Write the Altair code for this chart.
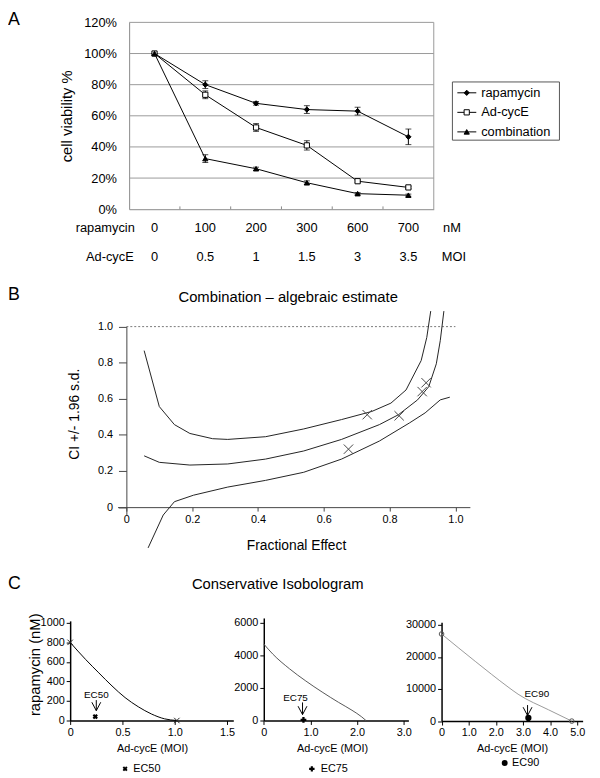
import altair as alt
import pandas as pd

FONT = "Liberation Sans"

# ---------------- Panel A data ----------------
rapa_doses = ["0", "100", "200", "300", "600", "700"]
adv_doses = ["0", "0.5", "1", "1.5", "3", "3.5"]
series_names = ["rapamycin", "Ad-cycE", "combination"]
viab_rapa = [100, 80, 68, 64, 63, 46.5]
err_rapa = [0, 2.5, 1.2, 2.5, 2.5, 5.0]
viab_adv = [100, 73.5, 52.5, 41, 18, 14]
err_adv = [0, 2.5, 2.5, 3.0, 0.7, 0.7]
viab_comb = [100, 32.5, 26, 17, 10, 9]
err_comb = [0, 2.5, 1.0, 1.2, 0.7, 0.7]
a_y_ticks = [0, 20, 40, 60, 80, 100, 120]
a_grid = [20, 40, 60, 80, 100, 120]
a_boundaries = [0.5, 1.5, 2.5, 3.5, 4.5]

# ---------------- Panel B data ----------------
fe_mid = [0.054, 0.100, 0.193, 0.308, 0.423, 0.539, 0.654, 0.769, 0.827, 0.885, 0.919, 0.942, 0.954, 0.965]
ci_mid = [0.284, 0.248, 0.233, 0.239, 0.266, 0.311, 0.375, 0.457, 0.512, 0.594, 0.667, 0.794, 0.922, 1.086]
fe_up = [0.054, 0.100, 0.146, 0.193, 0.262, 0.308, 0.423, 0.539, 0.654, 0.746, 0.804, 0.850, 0.896, 0.913, 0.925]
ci_up = [0.867, 0.557, 0.457, 0.408, 0.379, 0.375, 0.390, 0.433, 0.485, 0.530, 0.576, 0.649, 0.812, 0.940, 1.086]
fe_lo = [0.066, 0.112, 0.146, 0.204, 0.308, 0.423, 0.539, 0.654, 0.769, 0.861, 0.908, 0.954, 0.983]
ci_lo = [-0.226, -0.044, 0.030, 0.066, 0.111, 0.148, 0.193, 0.266, 0.366, 0.467, 0.522, 0.594, 0.609]
fe_obs = [0.675, 0.732, 0.829, 0.899, 0.911]
ci_obs = [0.321, 0.512, 0.506, 0.640, 0.689]
b_ticks = [0, 0.2, 0.4, 0.6, 0.8, 1.0]

# ---------------- Panel C data ----------------
c1_x = [0, 0.148, 0.274, 0.40, 0.525, 0.651, 0.777, 0.903, 1.02]
c1_y = [800, 625, 488, 354, 235, 141, 67, 17, 0]
c2_x = [0, 0.19, 0.55, 0.90, 1.25, 1.60, 1.89, 2.10, 2.19]
c2_y = [4700, 4090, 3180, 2430, 1750, 1120, 630, 220, 0]
c3_x = [0, 0.64, 1.24, 1.85, 2.45, 2.82, 3.95, 4.8]
c3_y = [27170, 22740, 18650, 14550, 10650, 8400, 3500, 0]
ec_names = ["EC50", "EC75", "EC90"]
ec_x = [0.24, 0.85, 3.2]
ec_y = [40, 40, 1000]
arrow_x = [0.25, 0.83, 3.17]
arrow_top = [209, 1110, 5000]
arrow_tip = [101, 364, 1720]
label_x = [0.25, 0.68, 3.51]
label_y = [263, 1376, 8580]

XPATH = "M-1,-1L1,1M-1,1L1,-1"
VPATH = "M-0.45,-0.85L0,0L0.45,-0.85"
FMT1 = "datum.value == 0 ? '0' : format(datum.value, '.1f')"
H = 770


def ax(**kw):
    base = dict(grid=False, labelFlush=False, labelOverlap=False, labelFont=FONT,
                titleFont=FONT, labelColor="black", titleColor="black",
                titleFontWeight="normal")
    base.update(kw)
    return alt.Axis(**base)


def one():
    return pd.DataFrame({"k": [0]})


def label(txt, x, y, size, align="left", weight="normal"):
    return alt.Chart(one()).mark_text(font=FONT, fontSize=size, align=align,
                                      baseline="middle", fontWeight=weight, color="black").encode(
        x=alt.value(x), y=alt.value(y), text=alt.value(txt))


# ================= Panel A =================
rows = []
for name, vals, errs in zip(series_names, [viab_rapa, viab_adv, viab_comb], [err_rapa, err_adv, err_comb]):
    for i, (v, e) in enumerate(zip(vals, errs)):
        rows.append({"series": name, "idx": i, "v": v, "lo": v - e, "hi": v + e, "err": e})
dfA = pd.DataFrame(rows)
dfA_err = dfA[dfA.err > 0]

xA = alt.Scale(domain=[-0.5, 5.5], range=[122.8, 431.6], nice=False, zero=False)
yA = alt.Scale(domain=[0, 120], range=[198.7, 9.3], nice=False, zero=False)
axA_y = ax(orient="left", offset=-122.8, values=a_y_ticks, labelExpr="datum.value + '%'",
           ticks=False, labelPadding=12.8, labelFontSize=13, domainColor="#888",
           title="cell viability %", titleX=-63.8, titleY=104, titleAngle=270,
           titleAlign="center", titleBaseline="middle", titleFontSize=15)
axA_x = ax(orient="bottom", offset=198.7 - H, values=a_boundaries, ticks=False, labels=False,
           domainColor="#888", title=None)


def XA(f):
    return alt.X(f, scale=xA, axis=axA_x)


def YA(f):
    return alt.Y(f, scale=yA, axis=axA_y)


def XAd(v):
    return alt.XDatum(v, scale=xA, axis=axA_x)


def YAd(v):
    return alt.YDatum(v, scale=yA, axis=axA_y)


shapeA = alt.Shape("series:N", scale=alt.Scale(domain=series_names, range=["diamond", "square", "triangle-up"]), legend=None)
fillA = alt.Fill("series:N", scale=alt.Scale(domain=series_names, range=["black", "white", "black"]), legend=None)

gridA = alt.Chart(pd.DataFrame({"g": a_grid})).mark_rule(color="#999", strokeWidth=1).encode(
    x=XAd(-0.5), x2=alt.X2Datum(5.5), y=YA("g:Q"))
borderA = alt.Chart(one()).mark_rule(color="#999", strokeWidth=1).encode(
    x=XAd(5.5), y=YAd(0), y2=alt.Y2Datum(120))
innerTicks = alt.Chart(pd.DataFrame({"b": a_boundaries})).mark_rule(color="#888", strokeWidth=1).encode(
    x=XA("b:Q"), y=YAd(0), y2=alt.Y2Datum(1.8))
linesA = alt.Chart(dfA).mark_line(color="black", strokeWidth=1).encode(
    x=XA("idx:Q"), y=YA("v:Q"), detail="series:N", order="idx:Q")
errA = alt.Chart(dfA_err).mark_rule(color="black", strokeWidth=1).encode(
    x=XA("idx:Q"), y=YA("lo:Q"), y2="hi:Q")
capLo = alt.Chart(dfA_err).mark_tick(orient="horizontal", size=6, thickness=1, color="black").encode(
    x=XA("idx:Q"), y=YA("lo:Q"))
capHi = alt.Chart(dfA_err).mark_tick(orient="horizontal", size=6, thickness=1, color="black").encode(
    x=XA("idx:Q"), y=YA("hi:Q"))
ptsA = alt.Chart(dfA).mark_point(filled=True, size=28, opacity=1, stroke="black", strokeWidth=1).encode(
    x=XA("idx:Q"), y=YA("v:Q"), shape=shapeA, fill=fillA)
dfT = pd.DataFrame({"idx": list(range(len(rapa_doses))), "rapa": rapa_doses, "adv": adv_doses})
tabR = alt.Chart(dfT).mark_text(font=FONT, fontSize=13, baseline="middle", color="black").encode(
    x=XA("idx:Q"), y=alt.value(217.7), text="rapa:N")
tabA = alt.Chart(dfT).mark_text(font=FONT, fontSize=13, baseline="middle", color="black").encode(
    x=XA("idx:Q"), y=alt.value(247), text="adv:N")

panelA = alt.layer(gridA, borderA, innerTicks, linesA, errA, capLo, capHi, ptsA, tabR, tabA)

# legend of panel A
dfL = pd.DataFrame({"series": series_names})
yL = alt.Y("series:N", sort=series_names,
           scale=alt.Scale(type="point", domain=series_names, range=[80.7, 120.3], padding=0), axis=None)
legBox = alt.Chart(one()).mark_rect(fill="white", stroke="#555", strokeWidth=1).encode(
    x=alt.value(450.5), x2=alt.value(559), y=alt.value(69.7), y2=alt.value(128.7))
legLine = alt.Chart(dfL).mark_rule(color="black", strokeWidth=1).encode(
    x=alt.value(455.5), x2=alt.value(474.7), y=yL)
legPts = alt.Chart(dfL).mark_point(filled=True, size=28, opacity=1, stroke="black", strokeWidth=1).encode(
    x=alt.value(465), y=yL, shape=shapeA, fill=fillA)
legTxt = alt.Chart(dfL).mark_text(font=FONT, fontSize=13, align="left", baseline="middle", color="black").encode(
    x=alt.value(479.7), y=yL, text="series:N")
legendA = alt.layer(legBox, legLine, legPts, legTxt)

# ================= Panel B =================
rowsB = []
for name, xs, ys in [("upper", fe_up, ci_up), ("mid", fe_mid, ci_mid), ("lower", fe_lo, ci_lo)]:
    for j, (a, b) in enumerate(zip(xs, ys)):
        rowsB.append({"curve": name, "o": j, "fe": a, "ci": b})
dfB = pd.DataFrame(rowsB)
dfObs = pd.DataFrame({"fe": fe_obs, "ci": ci_obs})

xB = alt.Scale(domain=[-0.027, 1.044], range=[111.0, 468.2], nice=False, zero=False)
yB = alt.Scale(domain=[-0.045, 1.0], range=[508.9, 317.7], nice=False, zero=False)
axB_y = ax(orient="left", offset=-120, values=b_ticks, labelExpr=FMT1, tickSize=8, labelPadding=6,
           domainColor="#444", tickColor="#444", labelFontSize=11,
           title="CI +/- 1.96 s.d.", titleX=-53, titleY=406, titleAngle=270,
           titleAlign="center", titleBaseline="middle", titleFontSize=14)
axB_x = ax(orient="bottom", offset=500.7 - H, values=b_ticks, labelExpr=FMT1, tickSize=4, labelPadding=3,
           domainColor="#444", tickColor="#444", labelFontSize=11,
           title="Fractional Effect", titleX=292, titleY=39, titleAngle=0,
           titleAlign="center", titleBaseline="middle", titleFontSize=14)

linesB = alt.Chart(dfB).mark_line(color="#222", strokeWidth=1).encode(
    x=alt.X("fe:Q", scale=xB, axis=axB_x), y=alt.Y("ci:Q", scale=yB, axis=axB_y),
    detail="curve:N", order="o:Q")
refB = alt.Chart(one()).mark_rule(color="#777", strokeWidth=1, strokeDash=[2, 2]).encode(
    x=alt.XDatum(0, scale=xB, axis=axB_x), x2=alt.X2Datum(1.0), y=alt.YDatum(1.0, scale=yB, axis=axB_y))
obsB = alt.Chart(dfObs).mark_point(shape=XPATH, size=90, filled=False, stroke="#444",
                                   strokeWidth=1, opacity=1).encode(
    x=alt.X("fe:Q", scale=xB, axis=axB_x), y=alt.Y("ci:Q", scale=yB, axis=axB_y))
panelB = alt.layer(refB, linesB, obsB)


# ================= Panel C =================
def iso(k, cx, cy, xdom, xr, ydom, yr, xvals, yvals, xoff, yaxis_y, color, xtitleX,
        ytitle=None, end_mark=None, ec_shape="cross", ec_angle=0, ec_size=30):
    xs = alt.Scale(domain=xdom, range=xr, nice=False, zero=False)
    ys = alt.Scale(domain=ydom, range=yr, nice=False, zero=False)
    yax_kw = dict(orient="left", offset=-xoff, values=yvals, format="d", tickSize=4, labelPadding=2,
                  domainColor="black", domainWidth=1.5, tickColor="black", labelFontSize=11)
    if ytitle:
        yax_kw.update(title=ytitle, titleX=-36, titleY=660, titleAngle=270, titleAlign="center",
                      titleBaseline="middle", titleFontSize=15)
    else:
        yax_kw.update(title=None)
    yax = ax(**yax_kw)
    xax = ax(orient="bottom", offset=yaxis_y - H, values=xvals, labelExpr=FMT1, tickSize=4, labelPadding=2,
             domainColor="black", domainWidth=1.5, tickColor="black", labelFontSize=11,
             title="Ad-cycE (MOI)", titleX=xtitleX, titleY=28, titleAngle=0,
             titleAlign="center", titleBaseline="middle", titleFontSize=11)

    def X(f):
        return alt.X(f, scale=xs, axis=xax)

    def Y(f):
        return alt.Y(f, scale=ys, axis=yax)

    def Xd(v):
        return alt.XDatum(v, scale=xs, axis=xax)

    def Yd(v):
        return alt.YDatum(v, scale=ys, axis=yax)

    dfc = pd.DataFrame({"x": cx, "y": cy})
    curve = alt.Chart(dfc).mark_line(color=color, strokeWidth=1, interpolate="monotone").encode(
        x=X("x:Q"), y=Y("y:Q"))
    layers = [curve]
    if end_mark is not None:
        ends = pd.DataFrame({"x": [cx[0], cx[-1]], "y": [cy[0], cy[-1]]})
        layers.append(alt.Chart(ends).mark_point(shape=end_mark[0], size=end_mark[1], filled=False,
                                                 stroke=end_mark[2], strokeWidth=1, opacity=1).encode(
            x=X("x:Q"), y=Y("y:Q")))
    layers.append(alt.Chart(one()).mark_rule(color="black", strokeWidth=1).encode(
        x=Xd(arrow_x[k]), y=Yd(arrow_top[k]), y2=alt.Y2Datum(arrow_tip[k])))
    layers.append(alt.Chart(one()).mark_point(shape=VPATH, size=400, filled=False, stroke="black",
                                              strokeWidth=1, opacity=1).encode(
        x=Xd(arrow_x[k]), y=Yd(arrow_tip[k])))
    layers.append(alt.Chart(one()).mark_text(font=FONT, fontSize=10, baseline="middle", color="black").encode(
        x=Xd(label_x[k]), y=Yd(label_y[k]), text=alt.value(ec_names[k])))
    layers.append(alt.Chart(one()).mark_point(shape=ec_shape, angle=ec_angle, size=ec_size, filled=True,
                                              color="black", opacity=1).encode(
        x=Xd(ec_x[k]), y=Yd(ec_y[k])))
    return alt.layer(*layers)


panelC1 = iso(0, c1_x, c1_y, [0, 1.56], [63, 228.4], [0, 1020], [717, 616.0],
              [0, 0.5, 1.0, 1.5], [0, 200, 400, 600, 800, 1000], 63, 717, "black", 146,
              ytitle="rapamycin (nM)", end_mark=(XPATH, 30, "#222"),
              ec_shape="cross", ec_angle=45, ec_size=30)
panelC2 = iso(1, c2_x, c2_y, [0, 3.1], [259.3, 405.9], [0, 6300], [717, 613.05],
              [0, 1.0, 2.0, 3.0], [0, 2000, 4000, 6000], 259.3, 717, "#555", 328.5,
              ec_shape="cross", ec_angle=0, ec_size=34)
panelC3 = iso(2, c3_x, c3_y, [0, 5.2], [439.5, 582.5], [0, 30800], [717.6, 617.5],
              [0, 1.0, 2.0, 3.0, 4.0, 5.0], [0, 10000, 20000, 30000], 439.5, 717.6, "#999", 511,
              end_mark=("circle", 22, "#555"), ec_shape="circle", ec_size=40)

# bottom legend of panel C
legC = alt.layer(
    alt.Chart(one()).mark_point(shape="cross", angle=45, size=26, filled=True, color="black", opacity=1).encode(
        x=alt.value(118.7), y=alt.value(766)),
    label("EC50", 127, 766, 11),
    alt.Chart(one()).mark_point(shape="cross", size=30, filled=True, color="black", opacity=1).encode(
        x=alt.value(308), y=alt.value(766)),
    label("EC75", 317, 766, 11),
    alt.Chart(one()).mark_point(shape="circle", size=36, filled=True, color="black", opacity=1).encode(
        x=alt.value(503.5), y=alt.value(760)),
    label("EC90", 511, 760, 11),
)

annots = alt.layer(
    label("A", 0, 7, 18),
    label("B", 0, 286, 18),
    label("C", 0, 579, 18),
    label("rapamycin", 128.5, 217.7, 13, align="right"),
    label("Ad-cycE", 127.4, 247, 13, align="right"),
    label("nM", 450, 217.7, 13, align="center"),
    label("MOI", 452, 247, 13, align="center"),
    label("Combination \u2013 algebraic estimate", 284, 288, 15, align="center"),
    label("Conservative Isobologram", 273.5, 579, 15, align="center"),
)

chart = alt.layer(panelA, legendA, panelB, panelC1, panelC2, panelC3, legC, annots).resolve_scale(
    x="independent", y="independent", shape="independent", fill="independent"
).properties(
    width=592, height=H, padding=0, autosize=alt.AutoSizeParams(type="none")
).configure_view(stroke=None).configure_text(font=FONT)

chart.save("out.html", embed_options={"renderer": "svg", "actions": False})
